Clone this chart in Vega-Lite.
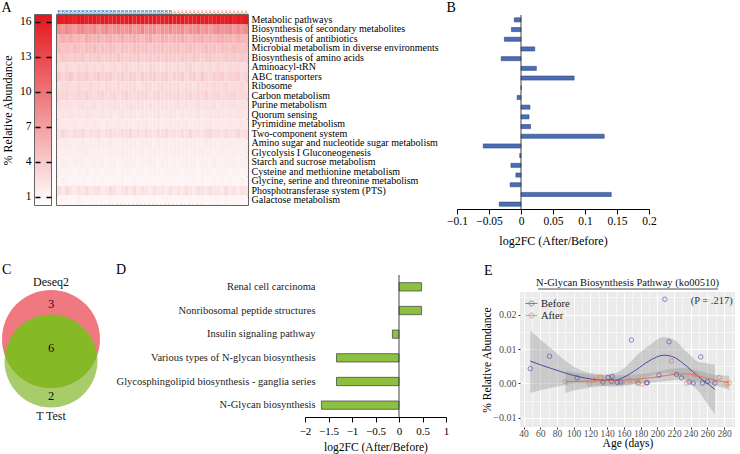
{
"$schema":"https://vega.github.io/schema/vega-lite/v6.json",
"background":"white",
"padding":{"left":0,"top":0,"right":1,"bottom":1},
"config":{"font":"Liberation Serif","view":{"stroke":null},
"axis":{"labelFont":"Liberation Serif","titleFont":"Liberation Serif","titleFontWeight":"normal","labelColor":"#000","titleColor":"#000","domainColor":"#000","tickColor":"#000","labelFlush":false,"labelOverlap":false},
"title":{"font":"Liberation Serif","fontWeight":"normal","fontSize":14,"anchor":"start","frame":"bounds","color":"#000","baseline":"alphabetic"},
"legend":{"labelFont":"Liberation Serif"}},
"resolve":{"scale":{"color":"independent"},"legend":{"color":"independent"}},
"datasets":{
"pathways":[{"p":1,"name":"Metabolic pathways","fc":-0.0105},{"p":2,"name":"Biosynthesis of secondary metabolites","fc":-0.015},{"p":3,"name":"Biosynthesis of antibiotics","fc":-0.026},{"p":4,"name":"Microbial metabolism in diverse environments","fc":0.0215},{"p":5,"name":"Biosynthesis of amino acids","fc":-0.031},{"p":6,"name":"Aminoacyl-tRN","fc":0.024},{"p":7,"name":"ABC transporters","fc":0.083},{"p":8,"name":"Ribosome","fc":0.0005},{"p":9,"name":"Carbon metabolism","fc":-0.006},{"p":10,"name":"Purine metabolism","fc":0.014},{"p":11,"name":"Quorum sensing","fc":0.0125},{"p":12,"name":"Pyrimidine metabolism","fc":0.015},{"p":13,"name":"Two-component system","fc":0.13},{"p":14,"name":"Amino sugar and nucleotide sugar metabolism","fc":-0.059},{"p":15,"name":"Glycolysis I Gluconeogenesis","fc":-0.002},{"p":16,"name":"Starch and sucrose metabolism","fc":-0.0157},{"p":17,"name":"Cysteine and methionine metabolism","fc":-0.008},{"p":18,"name":"Glycine, serine and threonine metabolism","fc":-0.017},{"p":19,"name":"Phosphotransferase system (PTS)","fc":0.141},{"p":20,"name":"Galactose metabolism","fc":-0.034}],
"hm":[
{"s":1,"p":1,"v":16.2},{"s":2,"p":1,"v":15.9},{"s":3,"p":1,"v":16.4},{"s":4,"p":1,"v":16.0},{"s":5,"p":1,"v":15.7},{"s":6,"p":1,"v":16.3},{"s":7,"p":1,"v":16.5},{"s":8,"p":1,"v":15.8},{"s":9,"p":1,"v":16.1},{"s":10,"p":1,"v":16.3},{"s":11,"p":1,"v":15.6},{"s":12,"p":1,"v":16.2},{"s":13,"p":1,"v":16.4},{"s":14,"p":1,"v":15.8},{"s":15,"p":1,"v":16.0},{"s":16,"p":1,"v":16.3},{"s":17,"p":1,"v":15.9},{"s":18,"p":1,"v":16.1},{"s":19,"p":1,"v":16.4},{"s":20,"p":1,"v":15.7},{"s":21,"p":1,"v":16.2},{"s":22,"p":1,"v":16.5},{"s":23,"p":1,"v":15.8},{"s":24,"p":1,"v":16.0},{"s":25,"p":1,"v":16.3},{"s":26,"p":1,"v":15.6},{"s":27,"p":1,"v":16.1},{"s":28,"p":1,"v":16.0},{"s":29,"p":1,"v":16.4},{"s":30,"p":1,"v":15.9},{"s":31,"p":1,"v":16.2},{"s":32,"p":1,"v":16.4},{"s":33,"p":1,"v":15.7},{"s":34,"p":1,"v":16.1},{"s":35,"p":1,"v":16.0},{"s":36,"p":1,"v":16.5},{"s":37,"p":1,"v":15.8},{"s":38,"p":1,"v":16.2},{"s":39,"p":1,"v":15.6},{"s":40,"p":1,"v":16.1},{"s":41,"p":1,"v":16.3},{"s":42,"p":1,"v":15.9},{"s":43,"p":1,"v":16.0},{"s":44,"p":1,"v":16.4},{"s":45,"p":1,"v":15.7},{"s":46,"p":1,"v":16.2},{"s":47,"p":1,"v":15.8},{"s":48,"p":1,"v":16.3},
{"s":1,"p":2,"v":8.2},{"s":2,"p":2,"v":7.5},{"s":3,"p":2,"v":8.6},{"s":4,"p":2,"v":7.9},{"s":5,"p":2,"v":7.2},{"s":6,"p":2,"v":8.4},{"s":7,"p":2,"v":8.9},{"s":8,"p":2,"v":7.6},{"s":9,"p":2,"v":7.8},{"s":10,"p":2,"v":8.5},{"s":11,"p":2,"v":7.1},{"s":12,"p":2,"v":8.1},{"s":13,"p":2,"v":8.7},{"s":14,"p":2,"v":7.3},{"s":15,"p":2,"v":7.9},{"s":16,"p":2,"v":8.3},{"s":17,"p":2,"v":7.6},{"s":18,"p":2,"v":7.8},{"s":19,"p":2,"v":8.6},{"s":20,"p":2,"v":7.4},{"s":21,"p":2,"v":8.0},{"s":22,"p":2,"v":8.8},{"s":23,"p":2,"v":7.2},{"s":24,"p":2,"v":7.9},{"s":25,"p":2,"v":8.3},{"s":26,"p":2,"v":7.0},{"s":27,"p":2,"v":8.1},{"s":28,"p":2,"v":7.7},{"s":29,"p":2,"v":8.5},{"s":30,"p":2,"v":7.6},{"s":31,"p":2,"v":8.0},{"s":32,"p":2,"v":8.4},{"s":33,"p":2,"v":7.3},{"s":34,"p":2,"v":8.2},{"s":35,"p":2,"v":7.8},{"s":36,"p":2,"v":8.7},{"s":37,"p":2,"v":7.4},{"s":38,"p":2,"v":8.1},{"s":39,"p":2,"v":7.0},{"s":40,"p":2,"v":7.9},{"s":41,"p":2,"v":8.5},{"s":42,"p":2,"v":7.6},{"s":43,"p":2,"v":7.8},{"s":44,"p":2,"v":8.4},{"s":45,"p":2,"v":7.2},{"s":46,"p":2,"v":8.2},{"s":47,"p":2,"v":7.5},{"s":48,"p":2,"v":8.3},
{"s":1,"p":3,"v":5.3},{"s":2,"p":3,"v":5.9},{"s":3,"p":3,"v":5.5},{"s":4,"p":3,"v":6.1},{"s":5,"p":3,"v":5.2},{"s":6,"p":3,"v":5.7},{"s":7,"p":3,"v":5.0},{"s":8,"p":3,"v":6.2},{"s":9,"p":3,"v":5.6},{"s":10,"p":3,"v":5.4},{"s":11,"p":3,"v":5.9},{"s":12,"p":3,"v":5.1},{"s":13,"p":3,"v":5.8},{"s":14,"p":3,"v":6.0},{"s":15,"p":3,"v":5.3},{"s":16,"p":3,"v":5.5},{"s":17,"p":3,"v":6.1},{"s":18,"p":3,"v":5.2},{"s":19,"p":3,"v":5.7},{"s":20,"p":3,"v":5.9},{"s":21,"p":3,"v":5.4},{"s":22,"p":3,"v":5.0},{"s":23,"p":3,"v":5.8},{"s":24,"p":3,"v":6.2},{"s":25,"p":3,"v":5.5},{"s":26,"p":3,"v":5.3},{"s":27,"p":3,"v":5.9},{"s":28,"p":3,"v":5.6},{"s":29,"p":3,"v":5.2},{"s":30,"p":3,"v":5.8},{"s":31,"p":3,"v":5.4},{"s":32,"p":3,"v":6.0},{"s":33,"p":3,"v":5.5},{"s":34,"p":3,"v":5.1},{"s":35,"p":3,"v":5.9},{"s":36,"p":3,"v":5.7},{"s":37,"p":3,"v":6.1},{"s":38,"p":3,"v":5.3},{"s":39,"p":3,"v":5.6},{"s":40,"p":3,"v":5.2},{"s":41,"p":3,"v":5.8},{"s":42,"p":3,"v":6.0},{"s":43,"p":3,"v":5.4},{"s":44,"p":3,"v":5.7},{"s":45,"p":3,"v":5.2},{"s":46,"p":3,"v":5.9},{"s":47,"p":3,"v":5.5},{"s":48,"p":3,"v":5.3},
{"s":1,"p":4,"v":4.9},{"s":2,"p":4,"v":4.4},{"s":3,"p":4,"v":4.7},{"s":4,"p":4,"v":4.2},{"s":5,"p":4,"v":5.0},{"s":6,"p":4,"v":4.6},{"s":7,"p":4,"v":4.3},{"s":8,"p":4,"v":4.8},{"s":9,"p":4,"v":4.5},{"s":10,"p":4,"v":5.1},{"s":11,"p":4,"v":4.2},{"s":12,"p":4,"v":4.7},{"s":13,"p":4,"v":4.4},{"s":14,"p":4,"v":4.9},{"s":15,"p":4,"v":4.6},{"s":16,"p":4,"v":4.1},{"s":17,"p":4,"v":4.8},{"s":18,"p":4,"v":4.5},{"s":19,"p":4,"v":4.3},{"s":20,"p":4,"v":5.0},{"s":21,"p":4,"v":4.6},{"s":22,"p":4,"v":4.4},{"s":23,"p":4,"v":4.9},{"s":24,"p":4,"v":4.2},{"s":25,"p":4,"v":4.7},{"s":26,"p":4,"v":4.5},{"s":27,"p":4,"v":4.8},{"s":28,"p":4,"v":4.3},{"s":29,"p":4,"v":4.6},{"s":30,"p":4,"v":4.4},{"s":31,"p":4,"v":4.8},{"s":32,"p":4,"v":4.2},{"s":33,"p":4,"v":4.7},{"s":34,"p":4,"v":4.9},{"s":35,"p":4,"v":4.5},{"s":36,"p":4,"v":4.3},{"s":37,"p":4,"v":4.6},{"s":38,"p":4,"v":5.0},{"s":39,"p":4,"v":4.4},{"s":40,"p":4,"v":4.7},{"s":41,"p":4,"v":4.2},{"s":42,"p":4,"v":4.8},{"s":43,"p":4,"v":4.5},{"s":44,"p":4,"v":4.3},{"s":45,"p":4,"v":4.9},{"s":46,"p":4,"v":4.6},{"s":47,"p":4,"v":4.4},{"s":48,"p":4,"v":4.7},
{"s":1,"p":5,"v":3.7},{"s":2,"p":5,"v":4.2},{"s":3,"p":5,"v":3.9},{"s":4,"p":5,"v":3.6},{"s":5,"p":5,"v":4.1},{"s":6,"p":5,"v":3.8},{"s":7,"p":5,"v":4.3},{"s":8,"p":5,"v":3.5},{"s":9,"p":5,"v":4.0},{"s":10,"p":5,"v":3.9},{"s":11,"p":5,"v":4.2},{"s":12,"p":5,"v":3.6},{"s":13,"p":5,"v":3.8},{"s":14,"p":5,"v":4.1},{"s":15,"p":5,"v":3.7},{"s":16,"p":5,"v":4.3},{"s":17,"p":5,"v":3.9},{"s":18,"p":5,"v":3.6},{"s":19,"p":5,"v":4.0},{"s":20,"p":5,"v":3.8},{"s":21,"p":5,"v":4.2},{"s":22,"p":5,"v":3.5},{"s":23,"p":5,"v":3.9},{"s":24,"p":5,"v":4.1},{"s":25,"p":5,"v":3.7},{"s":26,"p":5,"v":4.0},{"s":27,"p":5,"v":3.6},{"s":28,"p":5,"v":4.2},{"s":29,"p":5,"v":3.8},{"s":30,"p":5,"v":4.0},{"s":31,"p":5,"v":3.7},{"s":32,"p":5,"v":4.1},{"s":33,"p":5,"v":3.9},{"s":34,"p":5,"v":3.6},{"s":35,"p":5,"v":4.2},{"s":36,"p":5,"v":3.8},{"s":37,"p":5,"v":3.5},{"s":38,"p":5,"v":4.0},{"s":39,"p":5,"v":4.3},{"s":40,"p":5,"v":3.7},{"s":41,"p":5,"v":3.9},{"s":42,"p":5,"v":3.6},{"s":43,"p":5,"v":4.1},{"s":44,"p":5,"v":3.8},{"s":45,"p":5,"v":4.0},{"s":46,"p":5,"v":3.7},{"s":47,"p":5,"v":4.2},{"s":48,"p":5,"v":3.9},
{"s":1,"p":6,"v":3.0},{"s":2,"p":6,"v":2.7},{"s":3,"p":6,"v":3.2},{"s":4,"p":6,"v":2.8},{"s":5,"p":6,"v":2.6},{"s":6,"p":6,"v":3.1},{"s":7,"p":6,"v":2.9},{"s":8,"p":6,"v":3.3},{"s":9,"p":6,"v":2.7},{"s":10,"p":6,"v":3.0},{"s":11,"p":6,"v":2.8},{"s":12,"p":6,"v":3.2},{"s":13,"p":6,"v":2.6},{"s":14,"p":6,"v":2.9},{"s":15,"p":6,"v":3.1},{"s":16,"p":6,"v":2.7},{"s":17,"p":6,"v":3.0},{"s":18,"p":6,"v":3.3},{"s":19,"p":6,"v":2.8},{"s":20,"p":6,"v":2.6},{"s":21,"p":6,"v":3.1},{"s":22,"p":6,"v":2.9},{"s":23,"p":6,"v":2.7},{"s":24,"p":6,"v":3.2},{"s":25,"p":6,"v":3.0},{"s":26,"p":6,"v":2.8},{"s":27,"p":6,"v":2.6},{"s":28,"p":6,"v":3.1},{"s":29,"p":6,"v":2.9},{"s":30,"p":6,"v":2.8},{"s":31,"p":6,"v":3.1},{"s":32,"p":6,"v":2.7},{"s":33,"p":6,"v":3.0},{"s":34,"p":6,"v":3.3},{"s":35,"p":6,"v":2.9},{"s":36,"p":6,"v":2.6},{"s":37,"p":6,"v":3.1},{"s":38,"p":6,"v":2.8},{"s":39,"p":6,"v":3.0},{"s":40,"p":6,"v":2.7},{"s":41,"p":6,"v":3.2},{"s":42,"p":6,"v":2.9},{"s":43,"p":6,"v":2.6},{"s":44,"p":6,"v":3.0},{"s":45,"p":6,"v":2.8},{"s":46,"p":6,"v":3.1},{"s":47,"p":6,"v":2.7},{"s":48,"p":6,"v":2.9},
{"s":1,"p":7,"v":3.9},{"s":2,"p":7,"v":3.2},{"s":3,"p":7,"v":3.6},{"s":4,"p":7,"v":4.1},{"s":5,"p":7,"v":3.0},{"s":6,"p":7,"v":3.7},{"s":7,"p":7,"v":3.4},{"s":8,"p":7,"v":3.9},{"s":9,"p":7,"v":3.1},{"s":10,"p":7,"v":3.5},{"s":11,"p":7,"v":4.0},{"s":12,"p":7,"v":3.3},{"s":13,"p":7,"v":3.6},{"s":14,"p":7,"v":3.8},{"s":15,"p":7,"v":3.0},{"s":16,"p":7,"v":3.4},{"s":17,"p":7,"v":3.9},{"s":18,"p":7,"v":3.2},{"s":19,"p":7,"v":3.7},{"s":20,"p":7,"v":3.5},{"s":21,"p":7,"v":3.1},{"s":22,"p":7,"v":4.0},{"s":23,"p":7,"v":3.3},{"s":24,"p":7,"v":3.6},{"s":25,"p":7,"v":3.8},{"s":26,"p":7,"v":3.2},{"s":27,"p":7,"v":3.5},{"s":28,"p":7,"v":3.9},{"s":29,"p":7,"v":3.1},{"s":30,"p":7,"v":3.6},{"s":31,"p":7,"v":3.3},{"s":32,"p":7,"v":3.9},{"s":33,"p":7,"v":3.1},{"s":34,"p":7,"v":3.5},{"s":35,"p":7,"v":3.8},{"s":36,"p":7,"v":3.2},{"s":37,"p":7,"v":4.1},{"s":38,"p":7,"v":3.4},{"s":39,"p":7,"v":3.0},{"s":40,"p":7,"v":3.7},{"s":41,"p":7,"v":3.5},{"s":42,"p":7,"v":3.9},{"s":43,"p":7,"v":3.2},{"s":44,"p":7,"v":3.6},{"s":45,"p":7,"v":3.4},{"s":46,"p":7,"v":3.8},{"s":47,"p":7,"v":3.1},{"s":48,"p":7,"v":3.5},
{"s":1,"p":8,"v":2.6},{"s":2,"p":8,"v":2.9},{"s":3,"p":8,"v":3.1},{"s":4,"p":8,"v":2.7},{"s":5,"p":8,"v":2.5},{"s":6,"p":8,"v":3.0},{"s":7,"p":8,"v":2.8},{"s":8,"p":8,"v":2.6},{"s":9,"p":8,"v":3.2},{"s":10,"p":8,"v":2.7},{"s":11,"p":8,"v":2.9},{"s":12,"p":8,"v":2.5},{"s":13,"p":8,"v":3.0},{"s":14,"p":8,"v":2.8},{"s":15,"p":8,"v":2.7},{"s":16,"p":8,"v":3.1},{"s":17,"p":8,"v":2.6},{"s":18,"p":8,"v":2.9},{"s":19,"p":8,"v":2.8},{"s":20,"p":8,"v":3.0},{"s":21,"p":8,"v":2.5},{"s":22,"p":8,"v":2.7},{"s":23,"p":8,"v":3.1},{"s":24,"p":8,"v":2.9},{"s":25,"p":8,"v":2.6},{"s":26,"p":8,"v":2.8},{"s":27,"p":8,"v":3.0},{"s":28,"p":8,"v":2.7},{"s":29,"p":8,"v":2.9},{"s":30,"p":8,"v":2.7},{"s":31,"p":8,"v":3.0},{"s":32,"p":8,"v":2.6},{"s":33,"p":8,"v":2.9},{"s":34,"p":8,"v":2.8},{"s":35,"p":8,"v":2.5},{"s":36,"p":8,"v":3.1},{"s":37,"p":8,"v":2.7},{"s":38,"p":8,"v":2.9},{"s":39,"p":8,"v":2.6},{"s":40,"p":8,"v":3.0},{"s":41,"p":8,"v":2.8},{"s":42,"p":8,"v":2.7},{"s":43,"p":8,"v":3.1},{"s":44,"p":8,"v":2.6},{"s":45,"p":8,"v":2.9},{"s":46,"p":8,"v":2.8},{"s":47,"p":8,"v":3.0},{"s":48,"p":8,"v":2.7},
{"s":1,"p":9,"v":3.2},{"s":2,"p":9,"v":3.0},{"s":3,"p":9,"v":3.4},{"s":4,"p":9,"v":2.8},{"s":5,"p":9,"v":3.1},{"s":6,"p":9,"v":3.3},{"s":7,"p":9,"v":2.9},{"s":8,"p":9,"v":3.5},{"s":9,"p":9,"v":3.0},{"s":10,"p":9,"v":2.7},{"s":11,"p":9,"v":3.2},{"s":12,"p":9,"v":3.4},{"s":13,"p":9,"v":2.9},{"s":14,"p":9,"v":3.1},{"s":15,"p":9,"v":3.3},{"s":16,"p":9,"v":2.8},{"s":17,"p":9,"v":3.0},{"s":18,"p":9,"v":3.5},{"s":19,"p":9,"v":3.1},{"s":20,"p":9,"v":2.9},{"s":21,"p":9,"v":3.2},{"s":22,"p":9,"v":3.0},{"s":23,"p":9,"v":3.4},{"s":24,"p":9,"v":2.8},{"s":25,"p":9,"v":3.1},{"s":26,"p":9,"v":3.3},{"s":27,"p":9,"v":2.9},{"s":28,"p":9,"v":3.0},{"s":29,"p":9,"v":3.2},{"s":30,"p":9,"v":3.0},{"s":31,"p":9,"v":3.3},{"s":32,"p":9,"v":2.9},{"s":33,"p":9,"v":3.1},{"s":34,"p":9,"v":3.4},{"s":35,"p":9,"v":2.8},{"s":36,"p":9,"v":3.2},{"s":37,"p":9,"v":3.0},{"s":38,"p":9,"v":3.5},{"s":39,"p":9,"v":2.9},{"s":40,"p":9,"v":3.1},{"s":41,"p":9,"v":3.3},{"s":42,"p":9,"v":2.8},{"s":43,"p":9,"v":3.0},{"s":44,"p":9,"v":3.2},{"s":45,"p":9,"v":3.4},{"s":46,"p":9,"v":2.9},{"s":47,"p":9,"v":3.1},{"s":48,"p":9,"v":3.0},
{"s":1,"p":10,"v":2.5},{"s":2,"p":10,"v":2.3},{"s":3,"p":10,"v":2.6},{"s":4,"p":10,"v":2.4},{"s":5,"p":10,"v":2.2},{"s":6,"p":10,"v":2.5},{"s":7,"p":10,"v":2.7},{"s":8,"p":10,"v":2.3},{"s":9,"p":10,"v":2.4},{"s":10,"p":10,"v":2.6},{"s":11,"p":10,"v":2.2},{"s":12,"p":10,"v":2.5},{"s":13,"p":10,"v":2.3},{"s":14,"p":10,"v":2.4},{"s":15,"p":10,"v":2.6},{"s":16,"p":10,"v":2.5},{"s":17,"p":10,"v":2.2},{"s":18,"p":10,"v":2.4},{"s":19,"p":10,"v":2.7},{"s":20,"p":10,"v":2.3},{"s":21,"p":10,"v":2.5},{"s":22,"p":10,"v":2.4},{"s":23,"p":10,"v":2.2},{"s":24,"p":10,"v":2.6},{"s":25,"p":10,"v":2.3},{"s":26,"p":10,"v":2.5},{"s":27,"p":10,"v":2.4},{"s":28,"p":10,"v":2.6},{"s":29,"p":10,"v":2.3},{"s":30,"p":10,"v":2.4},{"s":31,"p":10,"v":2.6},{"s":32,"p":10,"v":2.3},{"s":33,"p":10,"v":2.5},{"s":34,"p":10,"v":2.2},{"s":35,"p":10,"v":2.4},{"s":36,"p":10,"v":2.7},{"s":37,"p":10,"v":2.3},{"s":38,"p":10,"v":2.5},{"s":39,"p":10,"v":2.4},{"s":40,"p":10,"v":2.6},{"s":41,"p":10,"v":2.2},{"s":42,"p":10,"v":2.5},{"s":43,"p":10,"v":2.3},{"s":44,"p":10,"v":2.4},{"s":45,"p":10,"v":2.6},{"s":46,"p":10,"v":2.3},{"s":47,"p":10,"v":2.5},{"s":48,"p":10,"v":2.4},
{"s":1,"p":11,"v":2.0},{"s":2,"p":11,"v":2.2},{"s":3,"p":11,"v":2.1},{"s":4,"p":11,"v":2.3},{"s":5,"p":11,"v":1.9},{"s":6,"p":11,"v":2.1},{"s":7,"p":11,"v":2.0},{"s":8,"p":11,"v":2.4},{"s":9,"p":11,"v":2.2},{"s":10,"p":11,"v":1.9},{"s":11,"p":11,"v":2.1},{"s":12,"p":11,"v":2.3},{"s":13,"p":11,"v":2.0},{"s":14,"p":11,"v":2.2},{"s":15,"p":11,"v":1.9},{"s":16,"p":11,"v":2.1},{"s":17,"p":11,"v":2.4},{"s":18,"p":11,"v":2.0},{"s":19,"p":11,"v":2.2},{"s":20,"p":11,"v":2.1},{"s":21,"p":11,"v":1.9},{"s":22,"p":11,"v":2.3},{"s":23,"p":11,"v":2.1},{"s":24,"p":11,"v":2.0},{"s":25,"p":11,"v":2.2},{"s":26,"p":11,"v":2.4},{"s":27,"p":11,"v":1.9},{"s":28,"p":11,"v":2.1},{"s":29,"p":11,"v":2.2},{"s":30,"p":11,"v":2.1},{"s":31,"p":11,"v":1.9},{"s":32,"p":11,"v":2.3},{"s":33,"p":11,"v":2.0},{"s":34,"p":11,"v":2.2},{"s":35,"p":11,"v":2.1},{"s":36,"p":11,"v":2.4},{"s":37,"p":11,"v":1.9},{"s":38,"p":11,"v":2.1},{"s":39,"p":11,"v":2.2},{"s":40,"p":11,"v":2.0},{"s":41,"p":11,"v":2.3},{"s":42,"p":11,"v":2.1},{"s":43,"p":11,"v":1.9},{"s":44,"p":11,"v":2.2},{"s":45,"p":11,"v":2.0},{"s":46,"p":11,"v":2.3},{"s":47,"p":11,"v":2.1},{"s":48,"p":11,"v":2.0},
{"s":1,"p":12,"v":1.9},{"s":2,"p":12,"v":1.8},{"s":3,"p":12,"v":2.0},{"s":4,"p":12,"v":1.9},{"s":5,"p":12,"v":2.1},{"s":6,"p":12,"v":1.7},{"s":7,"p":12,"v":1.9},{"s":8,"p":12,"v":2.0},{"s":9,"p":12,"v":1.8},{"s":10,"p":12,"v":2.1},{"s":11,"p":12,"v":1.9},{"s":12,"p":12,"v":1.7},{"s":13,"p":12,"v":2.0},{"s":14,"p":12,"v":1.8},{"s":15,"p":12,"v":1.9},{"s":16,"p":12,"v":2.1},{"s":17,"p":12,"v":1.8},{"s":18,"p":12,"v":2.0},{"s":19,"p":12,"v":1.9},{"s":20,"p":12,"v":1.7},{"s":21,"p":12,"v":2.0},{"s":22,"p":12,"v":1.9},{"s":23,"p":12,"v":2.1},{"s":24,"p":12,"v":1.8},{"s":25,"p":12,"v":1.9},{"s":26,"p":12,"v":2.0},{"s":27,"p":12,"v":1.7},{"s":28,"p":12,"v":1.9},{"s":29,"p":12,"v":2.0},{"s":30,"p":12,"v":1.8},{"s":31,"p":12,"v":2.0},{"s":32,"p":12,"v":1.9},{"s":33,"p":12,"v":2.1},{"s":34,"p":12,"v":1.7},{"s":35,"p":12,"v":1.9},{"s":36,"p":12,"v":2.0},{"s":37,"p":12,"v":1.8},{"s":38,"p":12,"v":1.9},{"s":39,"p":12,"v":2.1},{"s":40,"p":12,"v":1.8},{"s":41,"p":12,"v":2.0},{"s":42,"p":12,"v":1.9},{"s":43,"p":12,"v":1.7},{"s":44,"p":12,"v":2.0},{"s":45,"p":12,"v":1.9},{"s":46,"p":12,"v":1.8},{"s":47,"p":12,"v":2.1},{"s":48,"p":12,"v":1.9},
{"s":1,"p":13,"v":2.4},{"s":2,"p":13,"v":3.0},{"s":3,"p":13,"v":2.6},{"s":4,"p":13,"v":2.2},{"s":5,"p":13,"v":2.9},{"s":6,"p":13,"v":2.5},{"s":7,"p":13,"v":3.1},{"s":8,"p":13,"v":2.3},{"s":9,"p":13,"v":2.7},{"s":10,"p":13,"v":2.4},{"s":11,"p":13,"v":2.9},{"s":12,"p":13,"v":2.2},{"s":13,"p":13,"v":2.6},{"s":14,"p":13,"v":3.0},{"s":15,"p":13,"v":2.5},{"s":16,"p":13,"v":2.3},{"s":17,"p":13,"v":2.8},{"s":18,"p":13,"v":2.6},{"s":19,"p":13,"v":3.2},{"s":20,"p":13,"v":2.4},{"s":21,"p":13,"v":2.7},{"s":22,"p":13,"v":2.3},{"s":23,"p":13,"v":2.9},{"s":24,"p":13,"v":2.5},{"s":25,"p":13,"v":2.2},{"s":26,"p":13,"v":2.8},{"s":27,"p":13,"v":2.6},{"s":28,"p":13,"v":3.0},{"s":29,"p":13,"v":2.4},{"s":30,"p":13,"v":2.7},{"s":31,"p":13,"v":2.3},{"s":32,"p":13,"v":2.9},{"s":33,"p":13,"v":2.5},{"s":34,"p":13,"v":3.1},{"s":35,"p":13,"v":2.4},{"s":36,"p":13,"v":2.6},{"s":37,"p":13,"v":2.2},{"s":38,"p":13,"v":2.8},{"s":39,"p":13,"v":3.0},{"s":40,"p":13,"v":2.5},{"s":41,"p":13,"v":2.7},{"s":42,"p":13,"v":2.3},{"s":43,"p":13,"v":2.9},{"s":44,"p":13,"v":2.6},{"s":45,"p":13,"v":2.4},{"s":46,"p":13,"v":3.0},{"s":47,"p":13,"v":2.5},{"s":48,"p":13,"v":2.7},
{"s":1,"p":14,"v":1.7},{"s":2,"p":14,"v":1.6},{"s":3,"p":14,"v":1.8},{"s":4,"p":14,"v":1.6},{"s":5,"p":14,"v":1.5},{"s":6,"p":14,"v":1.7},{"s":7,"p":14,"v":1.8},{"s":8,"p":14,"v":1.6},{"s":9,"p":14,"v":1.7},{"s":10,"p":14,"v":1.5},{"s":11,"p":14,"v":1.8},{"s":12,"p":14,"v":1.6},{"s":13,"p":14,"v":1.7},{"s":14,"p":14,"v":1.9},{"s":15,"p":14,"v":1.6},{"s":16,"p":14,"v":1.5},{"s":17,"p":14,"v":1.7},{"s":18,"p":14,"v":1.8},{"s":19,"p":14,"v":1.6},{"s":20,"p":14,"v":1.7},{"s":21,"p":14,"v":1.5},{"s":22,"p":14,"v":1.8},{"s":23,"p":14,"v":1.6},{"s":24,"p":14,"v":1.7},{"s":25,"p":14,"v":1.6},{"s":26,"p":14,"v":1.8},{"s":27,"p":14,"v":1.5},{"s":28,"p":14,"v":1.7},{"s":29,"p":14,"v":1.6},{"s":30,"p":14,"v":1.6},{"s":31,"p":14,"v":1.7},{"s":32,"p":14,"v":1.5},{"s":33,"p":14,"v":1.8},{"s":34,"p":14,"v":1.6},{"s":35,"p":14,"v":1.7},{"s":36,"p":14,"v":1.5},{"s":37,"p":14,"v":1.6},{"s":38,"p":14,"v":1.8},{"s":39,"p":14,"v":1.7},{"s":40,"p":14,"v":1.6},{"s":41,"p":14,"v":1.5},{"s":42,"p":14,"v":1.7},{"s":43,"p":14,"v":1.6},{"s":44,"p":14,"v":1.8},{"s":45,"p":14,"v":1.6},{"s":46,"p":14,"v":1.7},{"s":47,"p":14,"v":1.5},{"s":48,"p":14,"v":1.6},
{"s":1,"p":15,"v":1.5},{"s":2,"p":15,"v":1.4},{"s":3,"p":15,"v":1.6},{"s":4,"p":15,"v":1.5},{"s":5,"p":15,"v":1.4},{"s":6,"p":15,"v":1.6},{"s":7,"p":15,"v":1.5},{"s":8,"p":15,"v":1.7},{"s":9,"p":15,"v":1.4},{"s":10,"p":15,"v":1.5},{"s":11,"p":15,"v":1.6},{"s":12,"p":15,"v":1.4},{"s":13,"p":15,"v":1.5},{"s":14,"p":15,"v":1.6},{"s":15,"p":15,"v":1.5},{"s":16,"p":15,"v":1.4},{"s":17,"p":15,"v":1.7},{"s":18,"p":15,"v":1.5},{"s":19,"p":15,"v":1.6},{"s":20,"p":15,"v":1.4},{"s":21,"p":15,"v":1.5},{"s":22,"p":15,"v":1.6},{"s":23,"p":15,"v":1.4},{"s":24,"p":15,"v":1.5},{"s":25,"p":15,"v":1.7},{"s":26,"p":15,"v":1.5},{"s":27,"p":15,"v":1.4},{"s":28,"p":15,"v":1.6},{"s":29,"p":15,"v":1.5},{"s":30,"p":15,"v":1.5},{"s":31,"p":15,"v":1.6},{"s":32,"p":15,"v":1.4},{"s":33,"p":15,"v":1.5},{"s":34,"p":15,"v":1.6},{"s":35,"p":15,"v":1.5},{"s":36,"p":15,"v":1.4},{"s":37,"p":15,"v":1.7},{"s":38,"p":15,"v":1.5},{"s":39,"p":15,"v":1.6},{"s":40,"p":15,"v":1.4},{"s":41,"p":15,"v":1.5},{"s":42,"p":15,"v":1.6},{"s":43,"p":15,"v":1.5},{"s":44,"p":15,"v":1.4},{"s":45,"p":15,"v":1.6},{"s":46,"p":15,"v":1.5},{"s":47,"p":15,"v":1.4},{"s":48,"p":15,"v":1.6},
{"s":1,"p":16,"v":1.3},{"s":2,"p":16,"v":1.5},{"s":3,"p":16,"v":1.4},{"s":4,"p":16,"v":1.3},{"s":5,"p":16,"v":1.6},{"s":6,"p":16,"v":1.4},{"s":7,"p":16,"v":1.5},{"s":8,"p":16,"v":1.3},{"s":9,"p":16,"v":1.4},{"s":10,"p":16,"v":1.5},{"s":11,"p":16,"v":1.4},{"s":12,"p":16,"v":1.6},{"s":13,"p":16,"v":1.3},{"s":14,"p":16,"v":1.4},{"s":15,"p":16,"v":1.5},{"s":16,"p":16,"v":1.3},{"s":17,"p":16,"v":1.4},{"s":18,"p":16,"v":1.6},{"s":19,"p":16,"v":1.4},{"s":20,"p":16,"v":1.5},{"s":21,"p":16,"v":1.3},{"s":22,"p":16,"v":1.4},{"s":23,"p":16,"v":1.5},{"s":24,"p":16,"v":1.6},{"s":25,"p":16,"v":1.4},{"s":26,"p":16,"v":1.3},{"s":27,"p":16,"v":1.5},{"s":28,"p":16,"v":1.4},{"s":29,"p":16,"v":1.3},{"s":30,"p":16,"v":1.5},{"s":31,"p":16,"v":1.3},{"s":32,"p":16,"v":1.4},{"s":33,"p":16,"v":1.6},{"s":34,"p":16,"v":1.4},{"s":35,"p":16,"v":1.5},{"s":36,"p":16,"v":1.3},{"s":37,"p":16,"v":1.4},{"s":38,"p":16,"v":1.5},{"s":39,"p":16,"v":1.3},{"s":40,"p":16,"v":1.6},{"s":41,"p":16,"v":1.4},{"s":42,"p":16,"v":1.3},{"s":43,"p":16,"v":1.5},{"s":44,"p":16,"v":1.4},{"s":45,"p":16,"v":1.6},{"s":46,"p":16,"v":1.3},{"s":47,"p":16,"v":1.4},{"s":48,"p":16,"v":1.5},
{"s":1,"p":17,"v":1.2},{"s":2,"p":17,"v":1.1},{"s":3,"p":17,"v":1.3},{"s":4,"p":17,"v":1.2},{"s":5,"p":17,"v":1.1},{"s":6,"p":17,"v":1.3},{"s":7,"p":17,"v":1.2},{"s":8,"p":17,"v":1.4},{"s":9,"p":17,"v":1.1},{"s":10,"p":17,"v":1.2},{"s":11,"p":17,"v":1.3},{"s":12,"p":17,"v":1.1},{"s":13,"p":17,"v":1.2},{"s":14,"p":17,"v":1.3},{"s":15,"p":17,"v":1.2},{"s":16,"p":17,"v":1.1},{"s":17,"p":17,"v":1.4},{"s":18,"p":17,"v":1.2},{"s":19,"p":17,"v":1.3},{"s":20,"p":17,"v":1.1},{"s":21,"p":17,"v":1.2},{"s":22,"p":17,"v":1.3},{"s":23,"p":17,"v":1.1},{"s":24,"p":17,"v":1.2},{"s":25,"p":17,"v":1.4},{"s":26,"p":17,"v":1.2},{"s":27,"p":17,"v":1.1},{"s":28,"p":17,"v":1.3},{"s":29,"p":17,"v":1.2},{"s":30,"p":17,"v":1.2},{"s":31,"p":17,"v":1.3},{"s":32,"p":17,"v":1.1},{"s":33,"p":17,"v":1.2},{"s":34,"p":17,"v":1.3},{"s":35,"p":17,"v":1.2},{"s":36,"p":17,"v":1.1},{"s":37,"p":17,"v":1.4},{"s":38,"p":17,"v":1.2},{"s":39,"p":17,"v":1.3},{"s":40,"p":17,"v":1.1},{"s":41,"p":17,"v":1.2},{"s":42,"p":17,"v":1.3},{"s":43,"p":17,"v":1.2},{"s":44,"p":17,"v":1.1},{"s":45,"p":17,"v":1.3},{"s":46,"p":17,"v":1.2},{"s":47,"p":17,"v":1.1},{"s":48,"p":17,"v":1.3},
{"s":1,"p":18,"v":1.1},{"s":2,"p":18,"v":1.2},{"s":3,"p":18,"v":1.1},{"s":4,"p":18,"v":1.0},{"s":5,"p":18,"v":1.2},{"s":6,"p":18,"v":1.1},{"s":7,"p":18,"v":1.3},{"s":8,"p":18,"v":1.1},{"s":9,"p":18,"v":1.0},{"s":10,"p":18,"v":1.2},{"s":11,"p":18,"v":1.1},{"s":12,"p":18,"v":1.2},{"s":13,"p":18,"v":1.0},{"s":14,"p":18,"v":1.1},{"s":15,"p":18,"v":1.3},{"s":16,"p":18,"v":1.1},{"s":17,"p":18,"v":1.2},{"s":18,"p":18,"v":1.0},{"s":19,"p":18,"v":1.1},{"s":20,"p":18,"v":1.2},{"s":21,"p":18,"v":1.1},{"s":22,"p":18,"v":1.0},{"s":23,"p":18,"v":1.2},{"s":24,"p":18,"v":1.3},{"s":25,"p":18,"v":1.1},{"s":26,"p":18,"v":1.0},{"s":27,"p":18,"v":1.2},{"s":28,"p":18,"v":1.1},{"s":29,"p":18,"v":1.2},{"s":30,"p":18,"v":1.2},{"s":31,"p":18,"v":1.1},{"s":32,"p":18,"v":1.0},{"s":33,"p":18,"v":1.2},{"s":34,"p":18,"v":1.1},{"s":35,"p":18,"v":1.3},{"s":36,"p":18,"v":1.1},{"s":37,"p":18,"v":1.2},{"s":38,"p":18,"v":1.0},{"s":39,"p":18,"v":1.1},{"s":40,"p":18,"v":1.2},{"s":41,"p":18,"v":1.1},{"s":42,"p":18,"v":1.3},{"s":43,"p":18,"v":1.0},{"s":44,"p":18,"v":1.2},{"s":45,"p":18,"v":1.1},{"s":46,"p":18,"v":1.0},{"s":47,"p":18,"v":1.2},{"s":48,"p":18,"v":1.1},
{"s":1,"p":19,"v":2.6},{"s":2,"p":19,"v":1.8},{"s":3,"p":19,"v":2.9},{"s":4,"p":19,"v":2.2},{"s":5,"p":19,"v":1.7},{"s":6,"p":19,"v":2.5},{"s":7,"p":19,"v":2.0},{"s":8,"p":19,"v":2.8},{"s":9,"p":19,"v":1.9},{"s":10,"p":19,"v":2.3},{"s":11,"p":19,"v":2.7},{"s":12,"p":19,"v":1.8},{"s":13,"p":19,"v":2.1},{"s":14,"p":19,"v":2.9},{"s":15,"p":19,"v":2.4},{"s":16,"p":19,"v":1.7},{"s":17,"p":19,"v":2.2},{"s":18,"p":19,"v":2.6},{"s":19,"p":19,"v":2.0},{"s":20,"p":19,"v":2.8},{"s":21,"p":19,"v":1.9},{"s":22,"p":19,"v":2.5},{"s":23,"p":19,"v":2.3},{"s":24,"p":19,"v":1.7},{"s":25,"p":19,"v":2.7},{"s":26,"p":19,"v":2.1},{"s":27,"p":19,"v":2.4},{"s":28,"p":19,"v":1.8},{"s":29,"p":19,"v":2.6},{"s":30,"p":19,"v":2.0},{"s":31,"p":19,"v":2.5},{"s":32,"p":19,"v":1.8},{"s":33,"p":19,"v":2.8},{"s":34,"p":19,"v":2.2},{"s":35,"p":19,"v":1.7},{"s":36,"p":19,"v":2.6},{"s":37,"p":19,"v":2.4},{"s":38,"p":19,"v":1.9},{"s":39,"p":19,"v":2.7},{"s":40,"p":19,"v":2.1},{"s":41,"p":19,"v":2.3},{"s":42,"p":19,"v":1.8},{"s":43,"p":19,"v":2.9},{"s":44,"p":19,"v":2.0},{"s":45,"p":19,"v":2.4},{"s":46,"p":19,"v":1.7},{"s":47,"p":19,"v":2.5},{"s":48,"p":19,"v":2.2},
{"s":1,"p":20,"v":0.9},{"s":2,"p":20,"v":1.0},{"s":3,"p":20,"v":1.1},{"s":4,"p":20,"v":0.9},{"s":5,"p":20,"v":1.0},{"s":6,"p":20,"v":1.2},{"s":7,"p":20,"v":1.0},{"s":8,"p":20,"v":0.9},{"s":9,"p":20,"v":1.1},{"s":10,"p":20,"v":1.0},{"s":11,"p":20,"v":0.9},{"s":12,"p":20,"v":1.1},{"s":13,"p":20,"v":1.0},{"s":14,"p":20,"v":1.2},{"s":15,"p":20,"v":0.9},{"s":16,"p":20,"v":1.0},{"s":17,"p":20,"v":1.1},{"s":18,"p":20,"v":0.9},{"s":19,"p":20,"v":1.0},{"s":20,"p":20,"v":1.1},{"s":21,"p":20,"v":1.2},{"s":22,"p":20,"v":1.0},{"s":23,"p":20,"v":0.9},{"s":24,"p":20,"v":1.0},{"s":25,"p":20,"v":1.1},{"s":26,"p":20,"v":0.9},{"s":27,"p":20,"v":1.0},{"s":28,"p":20,"v":1.2},{"s":29,"p":20,"v":1.0},{"s":30,"p":20,"v":1.0},{"s":31,"p":20,"v":0.9},{"s":32,"p":20,"v":1.1},{"s":33,"p":20,"v":1.0},{"s":34,"p":20,"v":1.2},{"s":35,"p":20,"v":0.9},{"s":36,"p":20,"v":1.0},{"s":37,"p":20,"v":1.1},{"s":38,"p":20,"v":0.9},{"s":39,"p":20,"v":1.0},{"s":40,"p":20,"v":1.1},{"s":41,"p":20,"v":1.0},{"s":42,"p":20,"v":0.9},{"s":43,"p":20,"v":1.2},{"s":44,"p":20,"v":1.0},{"s":45,"p":20,"v":0.9},{"s":46,"p":20,"v":1.1},{"s":47,"p":20,"v":1.0},{"s":48,"p":20,"v":0.9}
],
"fit":[
{"g":"Before","d":48,"fit":0.0065,"lo":-0.0028,"hi":0.0155},{"g":"Before","d":60,"fit":0.0054,"lo":-0.0020,"hi":0.0128},{"g":"Before","d":75,"fit":0.0042,"lo":-0.0012,"hi":0.0098},{"g":"Before","d":90,"fit":0.0030,"lo":-0.0005,"hi":0.0066},{"g":"Before","d":105,"fit":0.0020,"lo":0.0000,"hi":0.0042},{"g":"Before","d":120,"fit":0.0013,"lo":-0.0003,"hi":0.0030},{"g":"Before","d":135,"fit":0.0009,"lo":-0.0008,"hi":0.0026},{"g":"Before","d":150,"fit":0.0010,"lo":-0.0010,"hi":0.0030},{"g":"Before","d":160,"fit":0.0018,"lo":-0.0008,"hi":0.0044},{"g":"Before","d":175,"fit":0.0040,"lo":0.0000,"hi":0.0080},{"g":"Before","d":190,"fit":0.0065,"lo":0.0020,"hi":0.0110},{"g":"Before","d":208,"fit":0.0082,"lo":0.0030,"hi":0.0135},{"g":"Before","d":220,"fit":0.0076,"lo":0.0025,"hi":0.0127},{"g":"Before","d":235,"fit":0.0050,"lo":0.0008,"hi":0.0092},{"g":"Before","d":250,"fit":0.0018,"lo":-0.0025,"hi":0.0062},{"g":"Before","d":260,"fit":0.0000,"lo":-0.0060,"hi":0.0058},{"g":"Before","d":269,"fit":-0.0018,"lo":-0.0090,"hi":0.0054},
{"g":"After","d":90,"fit":0.0005,"lo":-0.0028,"hi":0.0037},{"g":"After","d":105,"fit":0.0006,"lo":-0.0018,"hi":0.0030},{"g":"After","d":120,"fit":0.0007,"lo":-0.0012,"hi":0.0026},{"g":"After","d":140,"fit":0.0008,"lo":-0.0007,"hi":0.0023},{"g":"After","d":160,"fit":0.0010,"lo":-0.0004,"hi":0.0024},{"g":"After","d":180,"fit":0.0013,"lo":-0.0001,"hi":0.0027},{"g":"After","d":200,"fit":0.0019,"lo":0.0004,"hi":0.0034},{"g":"After","d":220,"fit":0.0026,"lo":0.0009,"hi":0.0043},{"g":"After","d":232,"fit":0.0028,"lo":0.0011,"hi":0.0045},{"g":"After","d":245,"fit":0.0024,"lo":0.0008,"hi":0.0040},{"g":"After","d":260,"fit":0.0015,"lo":0.0000,"hi":0.0030},{"g":"After","d":272,"fit":0.0008,"lo":-0.0008,"hi":0.0024},{"g":"After","d":286,"fit":0.0002,"lo":-0.0019,"hi":0.0023}
],
"pts":[
{"g":"Before","d":48,"v":0.0043},{"g":"Before","d":71,"v":0.0079},{"g":"Before","d":104,"v":0.0016},{"g":"Before","d":135,"v":0.0004},{"g":"Before","d":141,"v":0.0017},{"g":"Before","d":146,"v":0.0020},{"g":"Before","d":145,"v":0.0006},{"g":"Before","d":152,"v":0.0003},{"g":"Before","d":156,"v":0.0004},{"g":"Before","d":169,"v":0.0126},{"g":"Before","d":177,"v":0.0001},{"g":"Before","d":187,"v":0.0002},{"g":"Before","d":188,"v":0.0002},{"g":"Before","d":202,"v":0.0024},{"g":"Before","d":209,"v":0.0245},{"g":"Before","d":214,"v":0.0121},{"g":"Before","d":223,"v":0.0026},{"g":"Before","d":229,"v":0.0016},{"g":"Before","d":238,"v":0.0004},{"g":"Before","d":243,"v":0.0001},{"g":"Before","d":252,"v":0.0077},{"g":"Before","d":254,"v":0.0001},{"g":"Before","d":260,"v":0.0005},{"g":"Before","d":269,"v":0.0001},
{"g":"After","d":90,"v":0.0005},{"g":"After","d":119,"v":-0.0001},{"g":"After","d":125,"v":0.0010},{"g":"After","d":132,"v":0.0018},{"g":"After","d":158,"v":0.0004},{"g":"After","d":167,"v":0.0009},{"g":"After","d":176,"v":0.0008},{"g":"After","d":182,"v":-0.0002},{"g":"After","d":217,"v":0.0065},{"g":"After","d":235,"v":0.0001},{"g":"After","d":246,"v":0.0025},{"g":"After","d":274,"v":0.0017},{"g":"After","d":283,"v":-0.0001},{"g":"After","d":286,"v":0.0001}
]
},
"spacing":15,
"vconcat":[
{"spacing":7,"resolve":{"scale":{"color":"independent"},"legend":{"color":"independent"}},"hconcat":[
 {"spacing":3,"hconcat":[
  {"width":16,"height":190,"title":{"text":"A","offset":0},
   "view":{"stroke":"#333","strokeWidth":1.5},
   "data":{"values":[{"lo":0.3,"hi":16.6}]},
   "mark":{"type":"rect","color":{"gradient":"linear","x1":0,"y1":1,"x2":0,"y2":0,"stops":[{"offset":0,"color":"#ffffff"},{"offset":1,"color":"#e3161c"}]}},
   "encoding":{
    "x":{"datum":0,"type":"quantitative","scale":{"domain":[0,1]},"axis":null},
    "x2":{"datum":1},
    "y":{"field":"lo","type":"quantitative","scale":{"domain":[0.3,16.6],"nice":false,"zero":false},
     "axis":{"values":[1,4,7,10,13,16],"tickCount":10,"title":"% Relative Abundance","titleFontSize":12,"titlePadding":5,"labelFontSize":11.5,"labelPadding":4,"labelOverlap":false,"ticks":false,"domain":false,"grid":true,"gridColor":"#000","gridDash":[5,6],"gridWidth":1.5,"zindex":1}},
    "y2":{"field":"hi"}}},
  {"width":191,"height":190,
   "view":{"stroke":"#333","strokeWidth":1.5},
   "data":{"name":"hm"},
   "transform":[{"lookup":"p","from":{"data":{"name":"pathways"},"key":"p","fields":["name"]}}],
   "mark":{"type":"rect"},
   "encoding":{
    "x":{"field":"s","type":"ordinal","scale":{"paddingInner":0,"paddingOuter":0},"axis":{"orient":"top","title":null,"ticks":false,"domain":false,"labelAngle":0,"labelFontSize":5.5,"labelPadding":1,"labelOverlap":false,"labelExpr":"datum.value <= 29 ? 'B' : 'A'","labelColor":{"condition":{"test":"datum.value <= 29","value":"#4b4bb0"},"value":"#f07a50"}}},
    "y":{"field":"name","type":"nominal","sort":{"field":"p","op":"min"},"scale":{"paddingInner":0,"paddingOuter":0},"axis":{"orient":"right","title":null,"ticks":false,"domain":false,"labelFontSize":10,"labelPadding":3,"labelLimit":300,"labelOverlap":false}},
    "color":{"field":"v","type":"quantitative","scale":{"domain":[0.3,16.6],"range":["#ffffff","#e3161c"],"interpolate":"rgb"},"legend":null}}}
 ]},
 {"width":192,"height":194,"title":{"text":"B","offset":0},
  "layer":[
   {"data":{"name":"pathways"},
    "mark":{"type":"bar","fill":"#4a6db4","stroke":"#2f4a85","strokeWidth":0.6},
    "encoding":{
     "y":{"field":"name","type":"nominal","sort":null,"axis":null,"scale":{"paddingInner":0.58,"paddingOuter":0.29}},
     "x":{"field":"fc","type":"quantitative","scale":{"domain":[-0.1,0.2],"nice":false},"axis":{"values":[-0.1,-0.05,0,0.05,0.1,0.15,0.2],"tickCount":10,"format":"~g","labelOverlap":false,"labelFlush":false,"title":"log2FC (After/Before)","labelFontSize":11.5,"titleFontSize":12,"grid":false,"tickSize":5,"labelPadding":1,"titlePadding":9}}}},
   {"data":{"values":[{}]},"mark":{"type":"rule","color":"#444","strokeWidth":1},"encoding":{"x":{"datum":0,"axis":{"values":[-0.1,-0.05,0,0.05,0.1,0.15,0.2],"tickCount":10,"format":"~g","labelOverlap":false,"labelFlush":false,"title":"log2FC (After/Before)","labelFontSize":11.5,"titleFontSize":12,"grid":false,"tickSize":5,"labelPadding":1,"titlePadding":9}}}}
  ]}
]},
{"spacing":32,"resolve":{"scale":{"color":"independent"},"legend":{"color":"independent"}},"hconcat":[
 {"spacing":15,"hconcat":[
  {"width":66,"height":150,"title":{"text":"C","offset":-2},
   "encoding":{
      "x":{"field":"cx","type":"quantitative","scale":{"domain":[-0.32,1.0],"nice":false,"zero":false},"axis":null},
      "y":{"field":"cy","type":"quantitative","scale":{"domain":[-1.5,1.5],"nice":false,"zero":false},"axis":null}},
   "layer":[
    {"data":{"values":[{"set":"T Test","cx":0,"cy":-0.22}]},
     "mark":{"type":"point","shape":"circle","filled":true,"opacity":1,"strokeWidth":0,"color":"#a6cd6a","size":8649}},
    {"data":{"values":[{"set":"Deseq2","cx":0,"cy":0.22}]},
     "mark":{"type":"point","shape":"circle","filled":true,"opacity":1,"strokeWidth":0,"color":"#f07981","size":9604}},
    {"data":{"values":[{"region":"Both","cx":0,"cy":0.22}]},
     "mark":{"type":"point","shape":"M-46.16,16.43A46.5,46.5,0,0,1,46.16,16.43A49,49,0,0,1,-46.16,16.43Z","size":4,"filled":true,"opacity":1,"color":"#86b926","strokeWidth":0}},
    {"data":{"values":[{"t":"Deseq2","cx":0,"cy":1.36},{"t":"T Test","cx":0,"cy":-1.32}]},
     "mark":{"type":"text","fontSize":12,"color":"#111","baseline":"middle"},
     "encoding":{"text":{"field":"t"}}},
    {"data":{"values":[{"t":"3","cx":0,"cy":0.92},{"t":"6","cx":0,"cy":0.04},{"t":"2","cx":0,"cy":-0.92}]},
     "mark":{"type":"text","fontSize":12.5,"color":"#111","baseline":"middle"},
     "encoding":{"text":{"field":"t"}}}
   ]},
  {"width":141,"height":142,"title":{"text":"D","offset":-2},
   "data":{"values":[{"path":"Renal cell carcinoma","fc":0.48},{"path":"Nonribosomal peptide structures","fc":0.48},{"path":"Insulin signaling pathway","fc":-0.14},{"path":"Various types of N-glycan biosynthesis","fc":-1.33},{"path":"Glycosphingolipid biosynthesis - ganglia series","fc":-1.33},{"path":"N-Glycan biosynthesis","fc":-1.65}]},
   "layer":[
    {"mark":{"type":"bar","fill":"#8cc03e","stroke":"#4d4d4d","strokeWidth":0.8},
     "encoding":{
      "y":{"field":"path","type":"nominal","sort":null,"scale":{"paddingInner":0.65,"paddingOuter":0.325},"axis":{"title":null,"ticks":false,"tickSize":0,"domain":false,"labelPadding":-10,"labelFontSize":10.5,"labelLimit":300,"labelColor":"#222","labelOverlap":false}},
      "x":{"field":"fc","type":"quantitative","scale":{"domain":[-2,1],"nice":false},"axis":{"values":[-2,-1.5,-1,-0.5,0,0.5,1],"tickCount":10,"format":"~g","labelOverlap":false,"labelFlush":false,"title":"log2FC (After/Before)","labelFontSize":11,"titleFontSize":11.5,"grid":false,"tickSize":5,"labelPadding":3,"titlePadding":5}}}},
    {"data":{"values":[{}]},"mark":{"type":"rule","color":"#444","strokeWidth":1},"encoding":{"x":{"datum":0,"axis":{"values":[-2,-1.5,-1,-0.5,0,0.5,1],"tickCount":10,"format":"~g","labelOverlap":false,"labelFlush":false,"title":"log2FC (After/Before)","labelFontSize":11,"titleFontSize":11.5,"grid":false,"tickSize":5,"labelPadding":3,"titlePadding":5}}}}
   ]}
 ]},
 {"spacing":2,"resolve":{"scale":{"color":"independent"},"legend":{"color":"independent"}},"vconcat":[
  {"width":215,"height":14,"title":{"text":"E","offset":-3,"dx":-36,"frame":"group"},
   "encoding":{"x":{"datum":0.5,"type":"quantitative","scale":{"domain":[0,1]},"axis":null},"y":{"datum":0,"type":"quantitative","scale":{"domain":[0,1]},"axis":null}},
   "layer":[
    {"data":{"values":[{}]},"mark":{"type":"rule","color":"#222","strokeWidth":0.8},
     "encoding":{"x":{"datum":0.084},"x2":{"datum":0.921},"y":{"datum":0}}},
    {"data":{"values":[{"t":"N-Glycan Biosynthesis Pathway (ko00510)"}]},"mark":{"type":"text","fontSize":10.5,"color":"#111","baseline":"alphabetic"},
     "encoding":{"x":{"datum":0.5},"y":{"datum":0.25},"text":{"field":"t"}}}
   ]},
  {"width":215,"height":135,
   "view":{"fill":"#ebebeb","stroke":null},
   "encoding":{
    "x":{"field":"d","type":"quantitative","scale":{"domain":[35.7,293],"nice":false,"zero":false},
     "axis":{"values":[40,50,60,70,80,90,100,110,120,130,140,150,160,170,180,190,200,210,220,230,240,250,260,270,280,290],"tickCount":30,"labelExpr":"datum.value % 20 == 0 ? datum.label : ''","labelOverlap":false,"title":"Age (days)","titleFontSize":11.5,"titlePadding":0,"labelFontSize":9.5,"labelColor":"#4d4d4d","labelPadding":-1,"domain":false,"tickSize":2,"tickColor":"#333","tickOpacity":{"condition":{"test":"datum.value % 20 == 0","value":1},"value":0},"grid":true,"gridColor":"#ffffff","gridWidth":{"condition":{"test":"datum.value % 20 == 0","value":1.1},"value":0.5}}}},
   "layer":[
    {"data":{"name":"fit"},"mark":{"type":"area","color":"#999999","opacity":0.4,"interpolate":"monotone"},
     "encoding":{"y":{"field":"lo","type":"quantitative","scale":{"domain":[-0.0127,0.0266],"nice":false,"zero":false},
       "axis":{"values":[-0.01,-0.005,0,0.005,0.01,0.015,0.02,0.025],"tickCount":10,"labelExpr":"abs(round(datum.value*1000)) % 10 == 0 ? format(datum.value, '.2f') : ''","labelOverlap":false,"title":"% Relative Abundance","titleFontSize":11.5,"titlePadding":0,"labelFontSize":10,"labelColor":"#4d4d4d","labelPadding":2,"domain":false,"tickSize":2,"tickColor":"#333","tickOpacity":{"condition":{"test":"abs(round(datum.value*1000)) % 10 == 0","value":1},"value":0},"grid":true,"gridColor":"#ffffff","gridWidth":{"condition":{"test":"abs(round(datum.value*1000)) % 10 == 0","value":1.1},"value":0.5}}},
      "y2":{"field":"hi"},"detail":{"field":"g"}}},
    {"data":{"name":"fit"},"mark":{"type":"line","strokeWidth":1,"interpolate":"monotone"},
     "encoding":{"y":{"field":"fit","type":"quantitative"},
      "color":{"field":"g","type":"nominal","scale":{"domain":["Before","After"],"range":["#4a4aad","#e8744c"]},
       "legend":{"orient":"top-left","title":null,"offset":3,"labelFontSize":10.5,"labelColor":"#222","symbolType":"M-1,0H1M0.4,0A0.4,0.4,0,1,1,-0.4,0A0.4,0.4,0,1,1,0.4,0","symbolSize":144,"symbolStrokeWidth":1,"symbolFillColor":"transparent","rowPadding":0,"padding":2,"labelOffset":3}}}},
    {"data":{"name":"pts"},"mark":{"type":"point","filled":false,"size":20,"strokeWidth":0.9},
     "encoding":{"y":{"field":"v","type":"quantitative"},"color":{"field":"g","type":"nominal"}}},
    {"data":{"values":[{"t":"(P = .217)","d":290.3,"v":0.024}]},"mark":{"type":"text","align":"right","baseline":"middle","fontSize":10.5,"color":"#333"},
     "encoding":{"y":{"field":"v","type":"quantitative"},"text":{"field":"t"}}}
   ]}
 ]}
]}
]
}
